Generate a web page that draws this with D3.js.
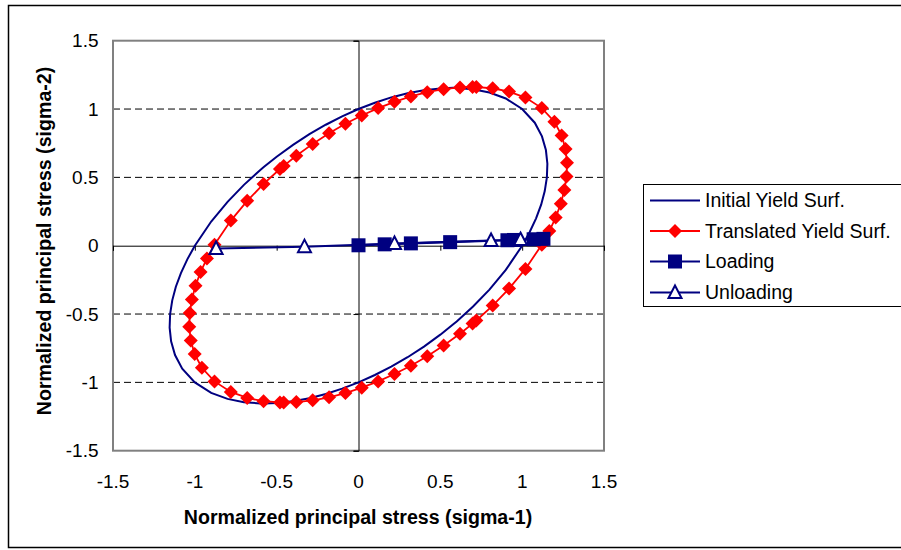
<!DOCTYPE html>
<html><head><meta charset="utf-8">
<script src="https://cdn.jsdelivr.net/npm/d3@7"></script>
<style>
body{margin:0;background:#fff}
svg{display:block}
text{font-family:"Liberation Sans",Arial,sans-serif;fill:#000}
</style>
</head><body>
<svg id="chart" width="901" height="550"></svg>
<script>
// ---- data ----
const initialX=[-1,-0.9,-0.8,-0.7,-0.6,-0.577,-0.5,-0.4,-0.3,-0.2,-0.1,0,0.1,0.2,0.3,0.4,0.5,0.577,0.6,0.7,0.8,0.9,1,
 1.077,1.121,1.145,1.154,1.151,1.138,1.116,1.085,1.046,
 1,0.9,0.8,0.7,0.6,0.577,0.5,0.4,0.3,0.2,0.1,0,-0.1,-0.2,-0.3,-0.4,-0.5,-0.577,-0.6,-0.7,-0.8,-0.9,-1,
 -1.077,-1.121,-1.145,-1.154,-1.151,-1.138,-1.116,-1.085,-1.046];
const initialY=[0,0.177,0.321,0.445,0.554,0.577,0.651,0.738,0.816,0.885,0.946,1,1.046,1.085,1.116,1.138,1.151,1.155,1.154,1.145,1.121,1.077,1,
 0.9,0.8,0.7,0.6,0.5,0.4,0.3,0.2,0.1,
 0,-0.177,-0.321,-0.445,-0.554,-0.577,-0.651,-0.738,-0.816,-0.885,-0.946,-1,-1.046,-1.085,-1.116,-1.138,-1.151,-1.155,-1.154,-1.145,-1.121,-1.077,-1,
 -0.9,-0.8,-0.7,-0.6,-0.5,-0.4,-0.3,-0.2,-0.1];
const translatedX=[-0.88,-0.78,-0.68,-0.58,-0.48,-0.457,-0.38,-0.28,-0.18,-0.08,0.02,0.12,0.22,0.32,0.42,0.52,0.62,0.697,0.72,0.82,0.92,1.02,1.12,
 1.197,1.241,1.265,1.274,1.271,1.258,1.236,1.205,1.166,
 1.12,1.02,0.92,0.82,0.72,0.697,0.62,0.52,0.42,0.32,0.22,0.12,0.02,-0.08,-0.18,-0.28,-0.38,-0.457,-0.48,-0.58,-0.68,-0.78,-0.88,
 -0.957,-1.001,-1.025,-1.034,-1.031,-1.018,-0.996,-0.965,-0.926];
const translatedY=[0.007,0.184,0.328,0.452,0.561,0.584,0.658,0.745,0.823,0.892,0.953,1.007,1.053,1.092,1.123,1.145,1.158,1.162,1.161,1.152,1.128,1.084,1.007,
 0.907,0.807,0.707,0.607,0.507,0.407,0.307,0.207,0.107,
 0.007,-0.170,-0.314,-0.438,-0.547,-0.570,-0.644,-0.731,-0.809,-0.878,-0.939,-0.993,-1.039,-1.078,-1.109,-1.131,-1.144,-1.148,-1.147,-1.138,-1.114,-1.070,-0.993,
 -0.893,-0.793,-0.693,-0.593,-0.493,-0.393,-0.293,-0.193,-0.093];
const loadingX=[0,0.16,0.32,0.56,0.91,0.95,1.07,1.13];
const loadingY=[0.003,0.01,0.017,0.026,0.04,0.042,0.047,0.05];
const unloadingX=[0.99,0.81,0.22,-0.33,-0.87];
const unloadingY=[0.045,0.038,0.016,-0.007,-0.02];
const xTicks=[-1.5,-1,-0.5,0,0.5,1,1.5];
const yTicks=[-1.5,-1,-0.5,0,0.5,1,1.5];
const gridValues=[-1,-0.5,0.5,1];
const seriesNames=["Initial Yield Surf.","Translated Yield Surf.","Loading","Unloading"];

// ---- drawing ----
const svg=d3.select("#chart");
const navy="#000080", red="#FF0000";
const x=d3.scaleLinear().domain([-1.5,1.5]).range([113,604]);
const y=d3.scaleLinear().domain([-1.5,1.5]).range([450.7,40.7]);
const fmt=d=>String(d);

svg.append("rect").attr("x",8.5).attr("y",5.5).attr("width",910).attr("height",542)
  .attr("fill","#fff").attr("stroke","#000").attr("stroke-width",1.5);

// gridlines
svg.append("g").selectAll("line").data(gridValues).join("line")
  .attr("x1",x(-1.5)).attr("x2",x(1.5)).attr("y1",d=>y(d)).attr("y2",d=>y(d))
  .attr("stroke","#000").attr("stroke-width",1).attr("stroke-dasharray","7,4");

// plot border
svg.append("rect").attr("x",x(-1.5)).attr("y",y(1.5)).attr("width",x(1.5)-x(-1.5)).attr("height",y(-1.5)-y(1.5))
  .attr("fill","none").attr("stroke","#808080").attr("stroke-width",2);

// axes through zero
const xAxis=d3.axisBottom(x).tickValues(xTicks).tickSize(5).tickFormat("");
const gx=svg.append("g").attr("transform",`translate(0,${y(0)})`).call(xAxis);
const yAxis=d3.axisLeft(y).tickValues(yTicks).tickSize(5).tickFormat("");
const gy=svg.append("g").attr("transform",`translate(${x(0)},0)`).call(yAxis);
[gx,gy].forEach(g=>{g.select(".domain").attr("stroke","#000").attr("stroke-width",1);
  g.selectAll(".tick line").attr("stroke","#000").attr("stroke-width",1);});

// tick labels (low position)
svg.append("g").selectAll("text").data(xTicks).join("text")
  .attr("x",d=>x(d)).attr("y",481).attr("dy","0.35em").attr("text-anchor","middle")
  .style("font-size","19px").text(fmt);
svg.append("g").selectAll("text").data(yTicks).join("text")
  .attr("x",98.5).attr("y",d=>y(d)).attr("dy","0.35em").attr("text-anchor","end")
  .style("font-size","19px").text(fmt);

// axis titles
svg.append("text").attr("x",358).attr("y",517).attr("dy","0.35em").attr("text-anchor","middle")
  .style("font-size","19.6px").style("font-weight","bold").text("Normalized principal stress (sigma-1)");
svg.append("text").attr("transform","translate(44,241) rotate(-90)").attr("dy","0.35em").attr("text-anchor","middle")
  .style("font-size","19.6px").style("font-weight","bold").text("Normalized principal stress (sigma-2)");

// series
const pts=(xs,ys)=>xs.map((v,i)=>[v,ys[i]]);
const lineClosed=d3.line().x(d=>x(d[0])).y(d=>y(d[1])).curve(d3.curveLinearClosed);
const lineOpen=d3.line().x(d=>x(d[0])).y(d=>y(d[1]));

const initial=pts(initialX,initialY);
const translated=pts(translatedX,translatedY);
const loading=pts(loadingX,loadingY);
const unloading=pts(unloadingX,unloadingY);

svg.append("path").attr("d",lineClosed(initial)).attr("fill","none").attr("stroke",navy).attr("stroke-width",2);

svg.append("path").attr("d",lineClosed(translated)).attr("fill","none").attr("stroke",red).attr("stroke-width",1.8);
const diamond="M0,-7L7,0L0,7L-7,0Z";
svg.append("g").selectAll("path").data(translated).join("path")
  .attr("d",diamond).attr("transform",d=>`translate(${x(d[0])},${y(d[1])})`).attr("fill",red);

svg.append("path").attr("d",lineOpen(loading)).attr("fill","none").attr("stroke",navy).attr("stroke-width",2.2);
svg.append("g").selectAll("rect").data(loading).join("rect")
  .attr("x",d=>x(d[0])-7).attr("y",d=>y(d[1])-7).attr("width",14).attr("height",14).attr("fill",navy);

const tri="M0,-7L6.5,5.5L-6.5,5.5Z";
svg.append("path").attr("d",lineOpen(unloading)).attr("fill","none").attr("stroke",navy).attr("stroke-width",2);
svg.append("g").selectAll("path").data(unloading).join("path")
  .attr("d",tri).attr("transform",d=>`translate(${x(d[0])},${y(d[1])})`)
  .attr("fill","#fff").attr("stroke",navy).attr("stroke-width",2);

// legend
const lg=svg.append("g");
lg.append("rect").attr("x",643.5).attr("y",184.5).attr("width",280).attr("height",122)
  .attr("fill","#fff").attr("stroke","#000").attr("stroke-width",1);
const rowY=[200.5,231,261.5,292.5];
const colors=[navy,red,navy,navy];
seriesNames.forEach((name,i)=>{
  const cy=rowY[i];
  lg.append("line").attr("x1",650).attr("x2",700).attr("y1",cy).attr("y2",cy)
    .attr("stroke",colors[i]).attr("stroke-width",2);
  if(i===1) lg.append("path").attr("d",diamond).attr("transform",`translate(675,${cy})`).attr("fill",red);
  if(i===2) lg.append("rect").attr("x",675-7).attr("y",cy-7).attr("width",14).attr("height",14).attr("fill",navy);
  if(i===3) lg.append("path").attr("d",tri).attr("transform",`translate(675,${cy})`).attr("fill","#fff").attr("stroke",navy).attr("stroke-width",2);
  lg.append("text").attr("x",705).attr("y",cy).attr("dy","0.35em").style("font-size","19.5px").text(name);
});
</script>
</body></html>
